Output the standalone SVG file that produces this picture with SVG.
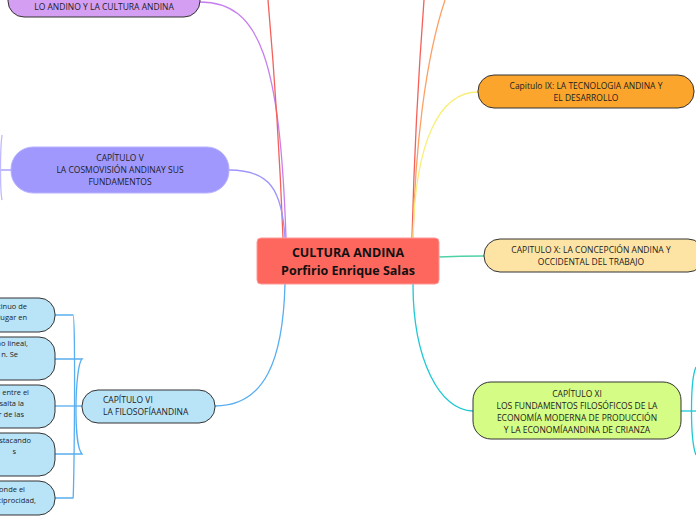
<svg xmlns="http://www.w3.org/2000/svg" width="696" height="520" viewBox="0 0 696 520">
<style>
text{font-family:"Open Sans","Noto Sans",sans-serif;font-size:8.5px;fill:#222}
.n{stroke:#333;stroke-width:1}
.c{fill:none;stroke-width:1.3}
.m{text-anchor:middle}
</style>
<rect width="696" height="520" fill="#fff"/>
<g id="connectors">
<path class="c" stroke="#c77ff0" d="M200,2 C260,2 280,60 286,238"/>
<path class="c" stroke="#f4605a" d="M268,0 C275,80 280,160 283,238"/>
<path class="c" stroke="#f4605a" d="M424,0 C418,80 414,160 412,238"/>
<path class="c" stroke="#fda064" d="M445,0 C425,60 415,150 413,238"/>
<path class="c" stroke="#9d95fc" d="M229,170 C270,170 282,190 285,238"/>
<path class="c" stroke="#9d95fc" d="M0,170 L11,170"/>
<path class="c" stroke="#c0baff" d="M2,135 C0,150 0,190 2,200"/>
<path class="c" stroke="#f8ef7a" d="M478,92 C440,92 415,140 413,238"/>
<path class="c" stroke="#4fd1a8" d="M439,257 C460,256 470,256 484,256"/>
<path class="c" stroke="#1ec8d4" d="M413,284 C413,360 440,411 473,411"/>
<path class="c" stroke="#1ec8d4" d="M681,411 L696,411"/>
<path class="c" stroke="#1ec8d4" d="M696,367 C690,380 690,440 696,455"/>
<path class="c" stroke="#58aef0" d="M215,406 C265,406 283,360 285,284"/>
<path class="c" stroke="#58aef0" d="M82,406 L55,406"/>
<path class="c" stroke="#58aef0" d="M55,315 L73,315 C76,315 74,500 73,498 L55,498"/>
<path class="c" stroke="#58aef0" d="M55,359 L82,359 C75,365 73,445 82,454 L55,454"/>
</g>
<g id="n-center"><rect x="257" y="238" width="182" height="46" rx="4" fill="#fe675d" stroke="#f99"/>
<text x="348" y="257" class="m" style="font-size:12.5px;font-weight:bold;fill:#111">CULTURA ANDINA</text>
<text x="348" y="275" class="m" style="font-size:12.5px;font-weight:bold;fill:#111">Porfirio Enrique Salas</text></g>
<g id="n-andino"><rect class="n" x="8" y="-20" width="192" height="37" rx="16" fill="#d49ef2"/>
<text x="104" y="10" class="m">LO ANDINO Y LA CULTURA ANDINA</text></g>
<g id="n-v"><rect x="11" y="147" width="218" height="46" rx="22" fill="#a098fd" stroke="#b8b2ff"/>
<text x="120" y="161" class="m">CAPÍTULO V</text><text x="120" y="173" class="m">LA COSMOVISIÓN ANDINAY SUS</text><text x="120" y="185" class="m">FUNDAMENTOS</text></g>
<g id="n-ix"><rect class="n" x="478" y="75" width="216" height="33" rx="16" fill="#fca52d"/>
<text x="586" y="89" class="m">Capitulo IX: LA TECNOLOGIA ANDINA Y</text><text x="586" y="101" class="m">EL DESARROLLO</text></g>
<g id="n-x"><rect class="n" x="484" y="239" width="220" height="33" rx="16" fill="#fde4a5"/>
<text x="591" y="253" class="m">CAPITULO X: LA CONCEPCIÓN ANDINA Y</text><text x="591" y="265" class="m">OCCIDENTAL DEL TRABAJO</text></g>
<g id="n-xi"><rect class="n" x="473" y="382" width="208" height="57" rx="18" fill="#d5fc85"/>
<text x="577" y="397" class="m">CAPÍTULO XI</text><text x="577" y="409" class="m">LOS FUNDAMENTOS FILOSÓFICOS DE LA</text><text x="577" y="421" class="m">ECONOMÍA MODERNA DE PRODUCCIÓN</text><text x="577" y="433" class="m"> Y LA ECONOMÍAANDINA DE CRIANZA</text></g>
<g id="n-vi"><rect class="n" x="82" y="390" width="133" height="33" rx="16" fill="#b9e4f8"/>
<text x="103" y="403">CAPÍTULO VI</text><text x="103" y="415">LA FILOSOFÍAANDINA</text></g>
<g id="n-c1"><rect class="n" x="-30" y="298" width="85" height="34" rx="16" fill="#b9e4f8"/>
<text x="27" y="309" text-anchor="end" style="font-size:7.5px">tinuo de</text><text x="27" y="320" text-anchor="end" style="font-size:7.5px">lugar en</text></g>
<g id="n-c2"><rect class="n" x="-30" y="337" width="85" height="43" rx="16" fill="#b9e4f8"/>
<text x="28" y="346" text-anchor="end" style="font-size:7.5px">ao lineal,</text><text x="18" y="357" text-anchor="end" style="font-size:7.5px">n. Se</text></g>
<g id="n-c3"><rect class="n" x="-30" y="385" width="85" height="43" rx="16" fill="#b9e4f8"/>
<text x="29" y="395" text-anchor="end" style="font-size:7.5px">e entre el</text><text x="24" y="406" text-anchor="end" style="font-size:7.5px">salta la</text><text x="24" y="417" text-anchor="end" style="font-size:7.5px">r de las</text></g>
<g id="n-c4"><rect class="n" x="-30" y="433" width="85" height="43" rx="16" fill="#b9e4f8"/>
<text x="31" y="443" text-anchor="end" style="font-size:7.5px">stacando</text><text x="16" y="454" text-anchor="end" style="font-size:7.5px">s</text></g>
<g id="n-c5"><rect class="n" x="-30" y="481" width="85" height="34" rx="16" fill="#b9e4f8"/>
<text x="25" y="492" text-anchor="end" style="font-size:7.5px">onde el</text><text x="36" y="503" text-anchor="end" style="font-size:7.5px">eciprocidad,</text></g>
</svg>
